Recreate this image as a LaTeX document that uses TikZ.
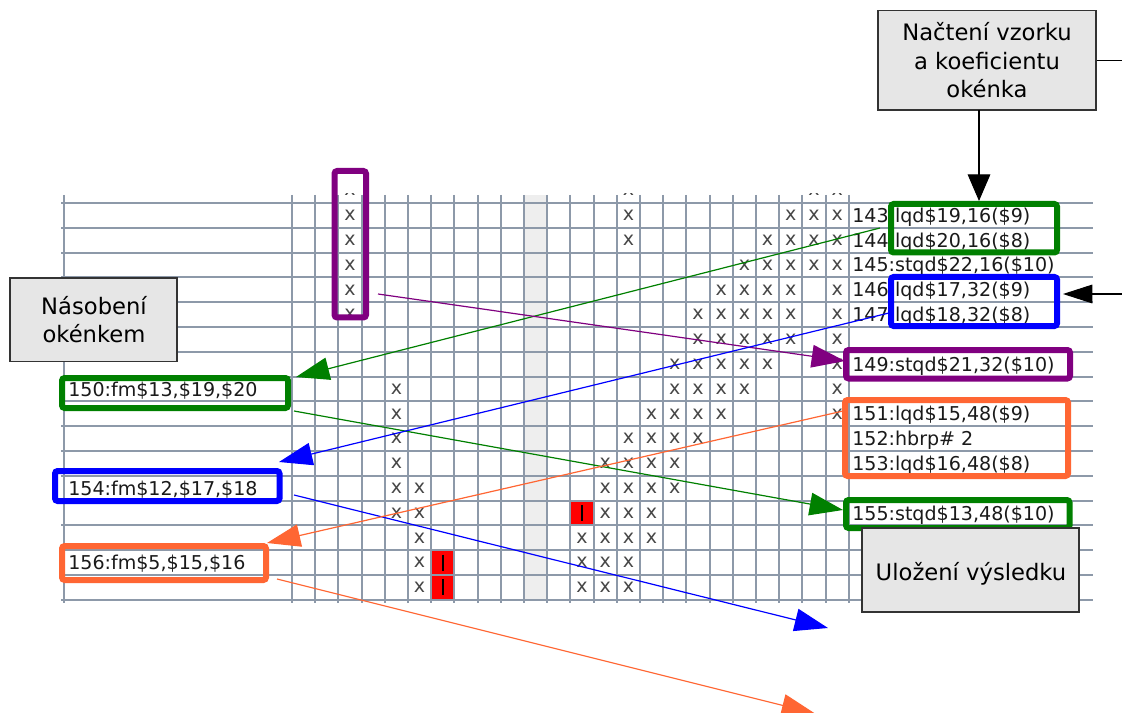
\documentclass[tikz,border=0pt]{standalone}
\usepackage{fontspec}
\setmainfont{DejaVu Sans}
\usetikzlibrary{arrows.meta,fit}

\definecolor{gridc}{HTML}{8D99A9}
\definecolor{colgray}{HTML}{EEEEEE}
\definecolor{hgreen}{HTML}{008000}
\definecolor{hblue}{HTML}{0000FF}
\definecolor{hpurple}{HTML}{800080}
\definecolor{horange}{HTML}{FF6633}
\definecolor{boxfill}{HTML}{E6E6E6}
\definecolor{xcol}{HTML}{474747}
\definecolor{txtc}{HTML}{1A1A1A}

\tikzset{
  gridline/.style={draw=gridc, line width=1.4pt},
  xmark/.style={inner sep=0pt, text=xcol, font=\fontsize{14.3}{14.3}\selectfont},
  instr/.style={anchor=base west, inner sep=0pt, text=txtc, font=\fontsize{14.3}{14.3}\selectfont},
  hl/.style={draw=#1, line width=4.5pt, rounded corners=2pt, inner sep=0pt},
  notebox/.style={draw=black!80, line width=0.8pt, fill=boxfill, inner sep=0pt},
  notetext/.style={anchor=base, inner sep=0pt, text=black, font=\fontsize{17}{17}\selectfont},
  conn/.style={draw=#1, line width=0.9pt, -{Triangle[length=25pt,width=17pt]}},
  blackarrow/.style={draw=black, line width=0.8pt},
}

\begin{document}
\begin{tikzpicture}[x=0.75pt, y=-0.75pt]
  \clip (0,0) rectangle (1122,713);
  \fill[white] (0,0) rectangle (1122,713);

  % shaded column of the schedule
  \fill[colgray] (525,195) rectangle (548,600);

  % red cells
  \foreach \j/\i in {12/12, 6/14, 6/15}
    \fill[red] ({292+23.2*\j},{203+24.8*\i}) rectangle ({292+23.2*(\j+1)},{203+24.8*(\i+1)});

  % grid
  \foreach \i in {0,...,16}
    \draw[gridline] (61,{203+24.8*\i}) -- (1093,{203+24.8*\i});
  \draw[gridline] (64,195) -- (64,603);
  \foreach \j in {0,...,24}
    \draw[gridline] ({292+23.2*\j},195) -- ({292+23.2*\j},603);

  % bars inside the red cells
  \foreach \j/\i in {12/12, 6/14, 6/15}
    \draw[black, line width=1.5pt] ({303.6+23.2*\j},{215.4+24.8*\i-8}) -- ({303.6+23.2*\j},{215.4+24.8*\i+8});

  % occupied slots
  \begin{scope}
    \clip (0,194) rectangle (1122,713);
    \foreach \i/\js in {-1/{2,14,22,23}, 0/{2,14,21,22,23}, 1/{2,14,20,21,22,23},
        2/{2,19,20,21,22,23}, 3/{2,18,19,20,21,23}, 4/{2,17,18,19,20,21,23},
        5/{17,18,19,20,21,23}, 6/{16,17,18,19,20,23}, 7/{4,16,17,18,19,23},
        8/{4,15,16,17,18,23}, 9/{4,14,15,16,17}, 10/{4,13,14,15,16},
        11/{4,5,13,14,15,16}, 12/{4,5,13,14,15}, 13/{5,12,13,14,15},
        14/{5,12,13,14}, 15/{5,12,13,14}}
      \foreach \j in \js
        \node[xmark] (x\i-\j) at ({303.6+23.2*\j},{215.4+24.8*\i}) {x};
  \end{scope}

  % instruction column
  \node[instr] (i143) at (852,222.4) {143:lqd\$19,16(\$9)};
  \node[instr] (i144) at (852,247.2) {144:lqd\$20,16(\$8)};
  \node[instr] (i145) at (852,272.0) {145:stqd\$22,16(\$10)};
  \node[instr] (i146) at (852,296.8) {146:lqd\$17,32(\$9)};
  \node[instr] (i147) at (852,321.6) {147:lqd\$18,32(\$8)};
  \node[instr] (i149) at (852,371.2) {149:stqd\$21,32(\$10)};
  \node[instr] (i151) at (852,420.8) {151:lqd\$15,48(\$9)};
  \node[instr] (i152) at (852,445.6) {152:hbrp\# 2};
  \node[instr] (i153) at (852,470.4) {153:lqd\$16,48(\$8)};
  \node[instr] (i155) at (852,520.0) {155:stqd\$13,48(\$10)};

  % multiply instructions on the left
  \node[instr] (i150) at (68,396.0) {150:fm\$13,\$19,\$20};
  \node[instr] (i154) at (68,495.2) {154:fm\$12,\$17,\$18};
  \node[instr] (i156) at (68,569.6) {156:fm\$5,\$15,\$16};

  % connector end points
  \coordinate (gAs) at (880,228);
  \coordinate (gAt) at (296,377);
  \coordinate (gBs) at (294,411);
  \coordinate (gBt) at (843,510);
  \coordinate (pAs) at (378,294);
  \coordinate (pAt) at (845,361);
  \coordinate (bAs) at (893,312);
  \coordinate (bAt) at (279,462);
  \coordinate (bBs) at (294,495);
  \coordinate (bBt) at (828,628);
  \coordinate (oAs) at (843,411);
  \coordinate (oAt) at (267,543);
  \coordinate (oBs) at (277,579);
  \coordinate (oBt) at (815,713.5);

  \draw[conn=hgreen] (gAs) -- (gAt);
  \draw[conn=hgreen] (gBs) -- (gBt);
  \draw[conn=hpurple] (pAs) -- (pAt);
  \draw[conn=hblue] (bAs) -- (bAt);
  \draw[conn=hblue] (bBs) -- (bBt);
  \draw[conn=horange] (oAs) -- (oAt);
  \draw[conn=horange] (oBs) -- (oBt);

  % highlight frames
  \node[hl=hpurple, fit={(334.5,171) (366,317.5)}] (pTall) {};
  \node[hl=hgreen,  fit={(891,204) (1057,252.5)}] (gTop) {};
  \node[hl=hblue,   fit={(891,277) (1057,326)}] (bTop) {};
  \node[hl=hpurple, fit={(846,350) (1070,378.5)}] (p149) {};
  \node[hl=horange, fit={(845,400) (1068,476)}] (o151) {};
  \node[hl=hgreen,  fit={(846,500) (1069.5,528)}] (g155) {};
  \node[hl=hgreen,  fit={(62,378) (288,408)}] (g150) {};
  \node[hl=hblue,   fit={(55,471) (279.5,501)}] (b154) {};
  \node[hl=horange, fit={(62,546) (266,580)}] (o156) {};

  % notes
  \node[notebox, fit={(878,10.7) (1096,110)}] (nac) {};
  \node[notetext] (nac1) at (987,41) {Načtení vzorku};
  \node[notetext] (nac2) at (987,69.5) {a koeficientu};
  \node[notetext] (nac3) at (987,98) {okénka};

  \node[notebox, fit={(10,278) (177,361.5)}] (nas) {};
  \node[notetext] (nas1) at (94,315) {Násobení};
  \node[notetext] (nas2) at (94,343) {okénkem};

  \node[notebox, fit={(862,528) (1079,612)}] (ulo) {};
  \node[notetext] (ulo1) at (971,580) {Uložení výsledku};

  % black pointers
  \coordinate (nacS) at (979,110);
  \coordinate (nacT) at (979,201);
  \coordinate (edgeA) at (1122,60.35);
  \coordinate (edgeB) at (1122,294);
  \coordinate (tipB) at (1063,294);
  \draw[blackarrow, -{Triangle[length=20pt,width=17pt]}] (nacS) -- (nacT);
  \draw[blackarrow] (nac.east) -- (edgeA);
  \draw[blackarrow, -{Triangle[length=22pt,width=14pt]}] (edgeB) -- (tipB);
\end{tikzpicture}
\end{document}
